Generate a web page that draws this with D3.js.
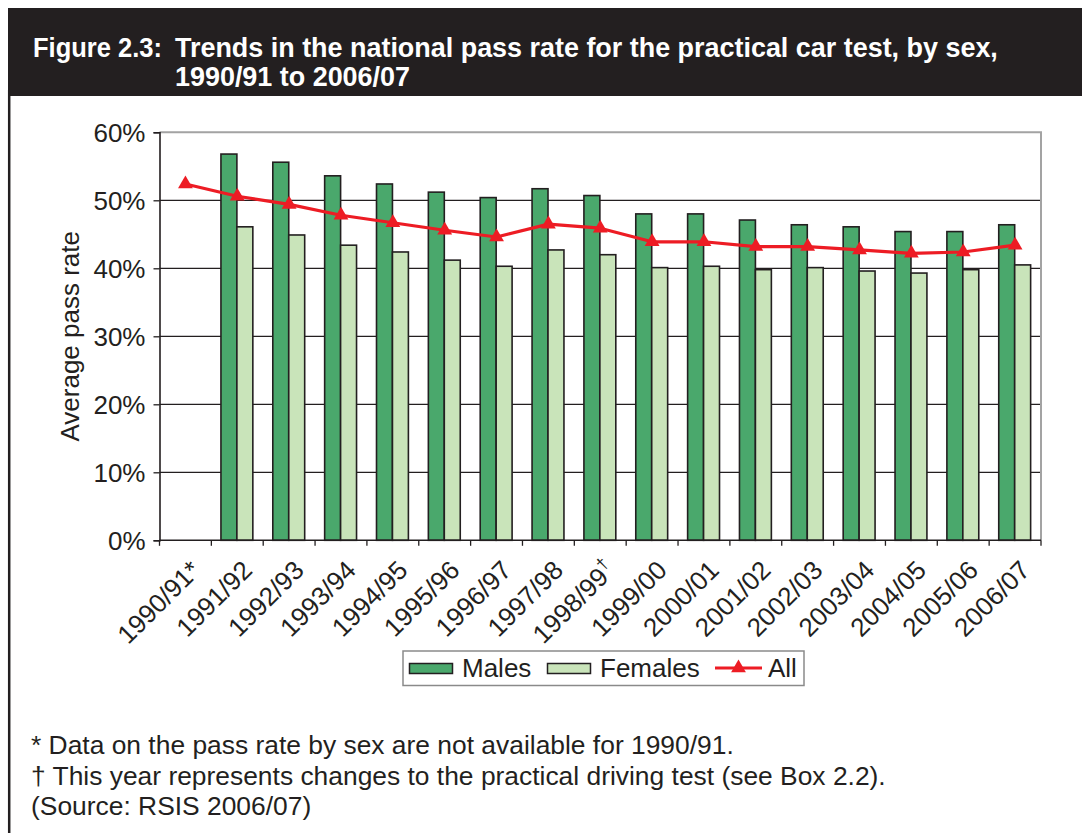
<!DOCTYPE html>
<html><head><meta charset="utf-8">
<script src="https://cdn.jsdelivr.net/npm/d3@7"></script>
<style>
body{margin:0;background:#fff}
svg{display:block}
</style>
</head><body>
<svg id="c" width="1082" height="833"></svg>
<script>
// ---- data ----
const categories = ["1990/91","1991/92","1992/93","1993/94","1994/95","1995/96","1996/97","1997/98","1998/99","1999/00","2000/01","2001/02","2002/03","2003/04","2004/05","2005/06","2006/07"];
const categoryMarks = ["*","","","","","","","","\u2020","","","","","","","",""];
const males   = [null,56.8,55.6,53.6,52.4,51.2,50.4,51.7,50.7,48.0,48.0,47.1,46.4,46.1,45.4,45.4,46.4];
const females = [null,46.1,44.9,43.4,42.4,41.2,40.3,42.7,42.0,40.1,40.3,39.8,40.1,39.6,39.3,39.8,40.5];
const allRate = [52.4,50.6,49.4,47.8,46.7,45.6,44.6,46.5,45.9,43.9,43.9,43.2,43.2,42.7,42.2,42.4,43.4];
const yTicks = [0,10,20,30,40,50,60];
const seriesNames = ["Males","Females","All"];
const yAxisTitle = "Average pass rate";
const titleLabel = "Figure 2.3:";
const titleLines = ["Trends in the national pass rate for the practical car test, by sex,","1990/91 to 2006/07"];
const footnotes = ["* Data on the pass rate by sex are not available for 1990/91.","\u2020 This year represents changes to the practical driving test (see Box 2.2).","(Source: RSIS 2006/07)"];

// ---- styling ----
const FONT = "'Liberation Sans', Arial, Helvetica, sans-serif";
const COL_M = "#4aa86c", COL_F = "#c9e4ba", COL_ALL = "#ed1c24", INK = "#231f20";

const svg = d3.select("#c");

// frame & title box
svg.append("rect").attr("x",8).attr("y",8).attr("width",1074).attr("height",88).attr("fill",INK);
svg.append("line").attr("x1",9.2).attr("x2",9.2).attr("y1",90).attr("y2",833).attr("stroke",INK).attr("stroke-width",2.5);

// title: bold sans, condensed horizontally to match the reference
const TFS = 28.5;
function titleText(x0, yb, str){
  const g = svg.append("g");
  const t = g.append("text").attr("x",0).attr("y",0).attr("fill","#fff").attr("font-family",FONT)
    .attr("font-weight","bold").attr("font-size",TFS).text(str);
  return {g, t, w: t.node().getComputedTextLength(), x0, yb};
}
const tl1 = titleText(175, 57, titleLines[0]);
const sx = (998 - 175) / tl1.w;
const tl0 = titleText(33, 57, titleLabel);
const sx0 = Math.min(sx, (162 - 33) / tl0.w);
const tl2 = titleText(175, 86, titleLines[1]);
tl0.g.attr("transform", `translate(${tl0.x0},${tl0.yb}) scale(${sx0},1)`);
[tl1, tl2].forEach(o => o.g.attr("transform", `translate(${o.x0},${o.yb}) scale(${sx},1)`));

// ---- scales ----
const L = 159.5, R = 1041, T = 132.3, B = 540.3;
const x = d3.scaleBand().domain(categories).range([L,R]).padding(0);
const bw = x.bandwidth();
const xs = d3.scaleBand().domain(["Males","Females"]).range([bw*0.185, bw*0.80]).padding(0);
const y = d3.scaleLinear().domain([0,60]).range([B,T]);

// gridlines
svg.append("g").selectAll("line").data(yTicks.filter(d=>d>0 && d<60)).join("line")
  .attr("x1",L).attr("x2",R).attr("y1",d=>y(d)).attr("y2",d=>y(d))
  .attr("stroke",INK).attr("stroke-width",1.3);

// plot border (top/right grey)
svg.append("path").attr("d",`M${L},${T}H${R}V${B}`).attr("fill","none").attr("stroke","#a3a3a3").attr("stroke-width",2);

// bars
const g = svg.append("g");
categories.forEach((c,i)=>{
  const pairs = [["Males",males[i],COL_M],["Females",females[i],COL_F]];
  pairs.forEach(([k,v,col])=>{
    if (v==null) return;
    g.append("rect").attr("x",x(c)+xs(k)).attr("y",y(v)).attr("width",xs.bandwidth()).attr("height",B-y(v))
      .attr("fill",col).attr("stroke",INK).attr("stroke-width",1.6);
  });
});

// y axis
const ya = svg.append("g").attr("transform",`translate(${L},0)`)
  .call(d3.axisLeft(y).tickValues(yTicks).tickFormat(d=>d+"%").tickSize(6).tickPadding(8));
ya.select(".domain").attr("stroke",INK).attr("stroke-width",1.6);
ya.selectAll(".tick line").attr("stroke",INK).attr("stroke-width",1.3);
ya.selectAll(".tick text").attr("font-family",FONT).attr("font-size",26).attr("fill",INK).attr("dy","0.36em");

// x axis line and boundary ticks
const boundaries = categories.map(c=>x(c)).concat([R]);
svg.append("line").attr("x1",L).attr("x2",R).attr("y1",B).attr("y2",B).attr("stroke",INK).attr("stroke-width",1.6);
svg.append("g").selectAll("line").data(boundaries).join("line")
  .attr("x1",d=>d).attr("x2",d=>d).attr("y1",B).attr("y2",B+5.5).attr("stroke",INK).attr("stroke-width",1.3);

// x labels
const xl = svg.append("g").selectAll("text").data(categories).join("text")
  .attr("transform",c=>`translate(${x(c)+bw/2+10},${B+25}) rotate(-45)`)
  .attr("text-anchor","end").attr("dy","0.35em")
  .attr("font-family",FONT).attr("font-size",26).attr("fill",INK);
xl.each(function(c,i){
  const t = d3.select(this);
  t.append("tspan").text(c);
  if (categoryMarks[i]==="*") t.append("tspan").text("*");
  else if (categoryMarks[i]) t.append("tspan").attr("font-size",17).attr("dy","-0.6em").text(categoryMarks[i]);
});

// y axis title
svg.append("text").attr("transform",`translate(79,${(T+B)/2}) rotate(-90)`).attr("text-anchor","middle")
  .attr("font-family",FONT).attr("font-size",26).attr("fill",INK).text(yAxisTitle);

// All line
const line = d3.line().x((d,i)=>x(categories[i])+bw/2).y(d=>y(d));
svg.append("path").attr("d",line(allRate)).attr("fill","none").attr("stroke",COL_ALL).attr("stroke-width",3.2).attr("stroke-linejoin","round");
const tri = d3.symbol().type(d3.symbolTriangle).size(95);
svg.append("g").selectAll("path").data(allRate).join("path")
  .attr("transform",(d,i)=>`translate(${x(categories[i])+bw/2},${y(d)})`)
  .attr("d",tri).attr("fill",COL_ALL);

// legend
const lg = svg.append("g");
lg.append("rect").attr("x",403).attr("y",651).attr("width",401).attr("height",34.5).attr("fill","#fff").attr("stroke","#8a8a8a").attr("stroke-width",1.5);
lg.append("rect").attr("x",409.5).attr("y",663.5).attr("width",43).attr("height",10).attr("fill",COL_M).attr("stroke",INK).attr("stroke-width",1.5);
lg.append("text").attr("x",462).attr("y",677).attr("font-family",FONT).attr("font-size",26).attr("fill",INK).text(seriesNames[0]);
lg.append("rect").attr("x",547.5).attr("y",663.5).attr("width",43).attr("height",10).attr("fill",COL_F).attr("stroke",INK).attr("stroke-width",1.5);
lg.append("text").attr("x",600).attr("y",677).attr("font-family",FONT).attr("font-size",26).attr("fill",INK).text(seriesNames[1]);
lg.append("line").attr("x1",715).attr("x2",762).attr("y1",668).attr("y2",668).attr("stroke",COL_ALL).attr("stroke-width",3);
lg.append("path").attr("transform","translate(738.5,668)").attr("d",tri).attr("fill",COL_ALL);
lg.append("text").attr("x",768).attr("y",677).attr("font-family",FONT).attr("font-size",26).attr("fill",INK).text(seriesNames[2]);

// footnotes
svg.append("g").selectAll("text").data(footnotes).join("text")
  .attr("x",31).attr("y",(d,i)=>754+i*30.5)
  .attr("font-family",FONT).attr("font-size",26.4).attr("fill",INK).text(d=>d);
</script>
</body></html>
